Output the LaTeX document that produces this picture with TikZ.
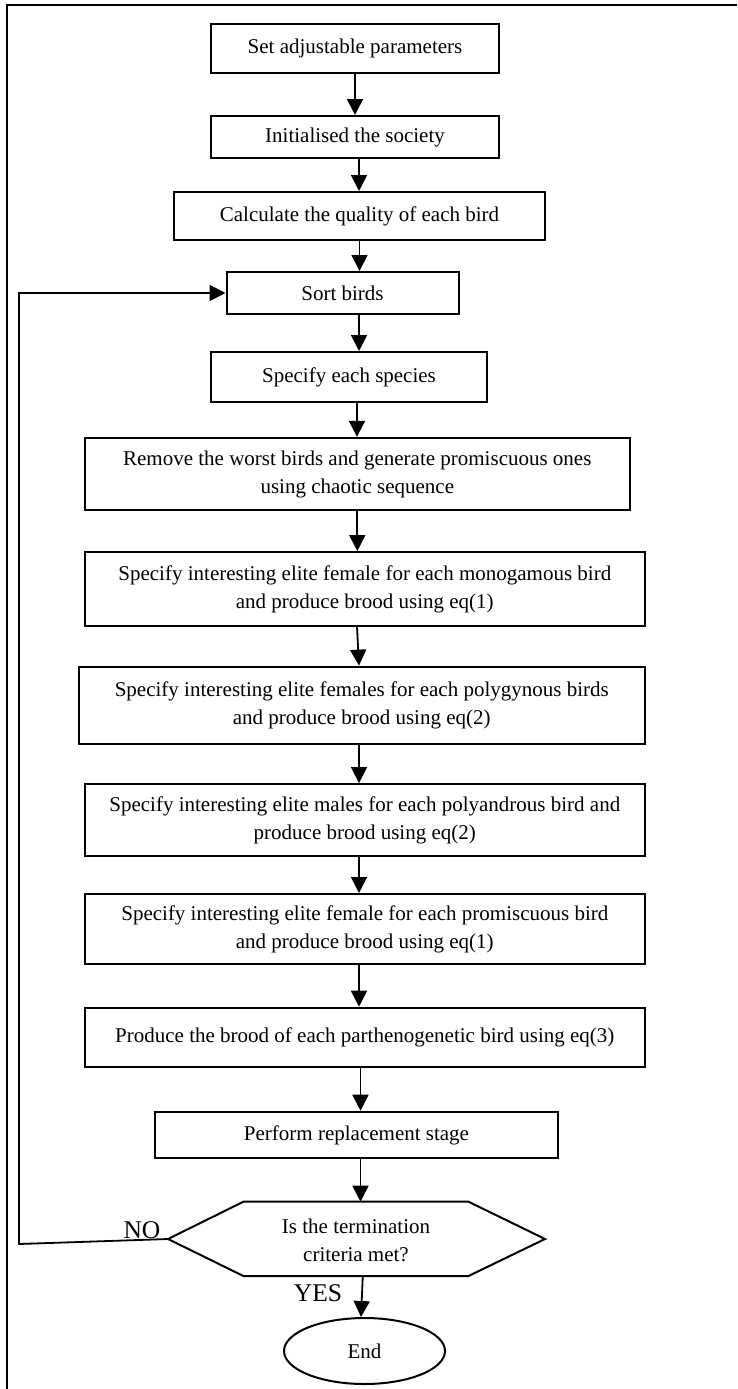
\documentclass[tikz,border=0pt]{standalone}
\usepackage{fontspec}
\setmainfont{Liberation Serif}
\usetikzlibrary{arrows.meta,shapes.geometric}
\begin{document}
\begin{tikzpicture}[x=1pt,y=-1pt,
  box/.style={draw, line width=2pt, align=center, inner sep=0pt, font=\fontsize{21}{28}\selectfont},
  arr/.style={line width=1.8pt, -{Triangle[length=16pt,width=16pt]}},
  plain/.style={line width=2pt},
  txt/.style={align=center, inner sep=0pt, font=\fontsize{21}{28}\selectfont},
  lbl/.style={inner sep=0pt, font=\fontsize{25.5}{28}\selectfont}]
\useasboundingbox (0,0) rectangle (737,1389);
% frame
\draw[plain] (737,4.7) -- (6.7,4.7) -- (6.7,1389);
% boxes
\node[box, minimum width=288pt, minimum height=49pt] (b1) at (355,48.5) {Set adjustable parameters};
\node[box, minimum width=288pt, minimum height=42pt] (b2) at (355,137) {Initialised the society};
\node[box, minimum width=371pt, minimum height=48pt] (b3) at (359.5,216) {Calculate the quality of each bird};
\node[box, minimum width=232pt, minimum height=42pt] (b4) at (342.5,293) {Sort birds};
\node[box, minimum width=276pt, minimum height=50pt] (b5) at (349,377) {Specify each species};
\node[box, minimum width=545.4pt, minimum height=72.3pt] (b6) at (357.3,474) {Remove the worst birds and generate promiscuous ones\\using chaotic sequence};
\node[box, minimum width=560.4pt, minimum height=73.7pt] (b7) at (364.8,588.9) {Specify interesting elite female for each monogamous bird\\and produce brood using eq(1)};
\node[box, minimum width=566.5pt, minimum height=77.3pt] (b8) at (361.75,705.3) {Specify interesting elite females for each polygynous birds\\and produce brood using eq(2)};
\node[box, minimum width=560.4pt, minimum height=71.7pt] (b9) at (364.8,819.9) {Specify interesting elite males for each polyandrous bird and\\produce brood using eq(2)};
\node[box, minimum width=560.4pt, minimum height=70pt] (b10) at (364.8,929) {Specify interesting elite female for each promiscuous bird\\and produce brood using eq(1)};
\node[box, minimum width=560.4pt, minimum height=59pt] (b11) at (364.8,1037.2) {Produce the brood of each parthenogenetic bird using eq(3)};
\node[box, minimum width=403pt, minimum height=46.6pt] (b12) at (356.5,1135) {Perform replacement stage};
% decision hexagon
\coordinate (hW) at (168,1239);
\coordinate (hNW) at (243.4,1201.7);
\coordinate (hNE) at (468.5,1201.7);
\coordinate (hE) at (545,1239);
\coordinate (hSE) at (468.5,1276);
\coordinate (hSW) at (243.4,1276);
\coordinate (hN) at (360.5,1201.7);
\coordinate (hS) at (362.8,1276);
\draw[plain, line join=miter] (hW) -- (hNW) -- (hNE) -- (hE) -- (hSE) -- (hSW) -- cycle;
\node[txt] (dec) at (356,1240) {Is the termination\\criteria met?};
% end
\node[draw, ellipse, line width=2pt, minimum width=161pt, minimum height=66pt, inner sep=0pt, font=\fontsize{21}{28}\selectfont] (end) at (364.5,1351) {End};
% labels
\node[lbl] (no) at (142,1230) {NO};
\node[lbl] (yes) at (318,1292.7) {YES};
% arrows
\coordinate (a2s) at ([xshift=4pt]b2.south);
\coordinate (a4s) at ([xshift=16.5pt]b4.south);
\coordinate (a5s) at ([xshift=8pt]b5.south);
\coordinate (a7s) at ([xshift=-7.8pt]b7.south);
\coordinate (a7e) at ([xshift=-2.75pt]b8.north);
\coordinate (a8s) at ([xshift=-2.75pt]b8.south);
\coordinate (a9s) at ([xshift=-5.8pt]b9.south);
\coordinate (a10s) at ([xshift=-5.8pt]b10.south);
\coordinate (a11s) at ([xshift=-4.3pt]b11.south);
\coordinate (a12s) at ([xshift=4pt]b12.south);
\coordinate (a13e) at ([xshift=-3.5pt]end.north);
\draw[arr] (b1.south) -- (b2.north);
\draw[arr] (a2s) -- (a2s |- b3.north);
\draw[arr] (b3.south) -- (b3.south |- b4.north);
\draw[arr] (a4s) -- (a4s |- b5.north);
\draw[arr] (a5s) -- (a5s |- b6.north);
\draw[arr] (b6.south) -- (b6.south |- b7.north);
\draw[arr] (a7s) -- (a7e);
\draw[arr] (a8s) -- (a8s |- b9.north);
\draw[arr] (a9s) -- (a9s |- b10.north);
\draw[arr] (a10s) -- (a10s |- b11.north);
\draw[arr] (a11s) -- (a11s |- b12.north);
\draw[arr] (a12s) -- (hN);
\draw[arr] (hS) -- (a13e);
% loop back
\coordinate (loopc) at (19,1244);
\draw[arr] (hW) -- (loopc) |- (b4.west);
\end{tikzpicture}
\end{document}
